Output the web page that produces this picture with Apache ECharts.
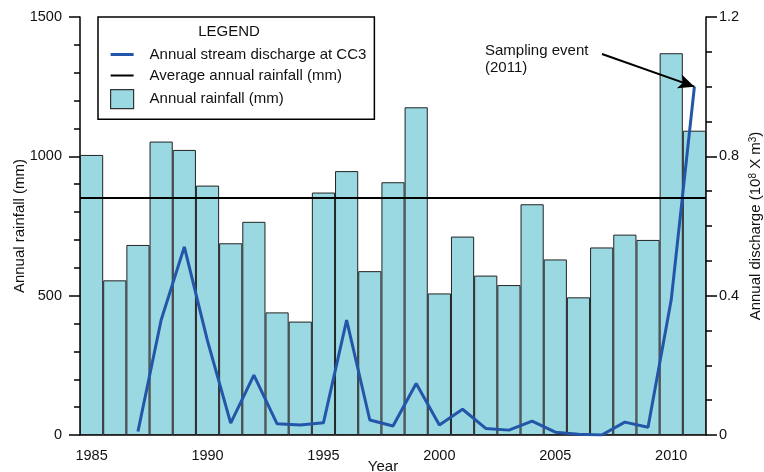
<!DOCTYPE html>
<html>
<head>
<meta charset="utf-8">
<script src="https://cdn.jsdelivr.net/npm/echarts@6/dist/echarts.min.js"></script>
<style>
  html, body { margin: 0; padding: 0; background: #fff; }
  #chart { width: 764px; height: 472px; }
</style>
</head>
<body>
<div id="chart"></div>
<script>
// Years 1985–2011
const years = ['1985','1986','1987','1988','1989','1990','1991','1992','1993','1994',
  '1995','1996','1997','1998','1999','2000','2001','2002','2003','2004',
  '2005','2006','2007','2008','2009','2010','2011'];

// Annual rainfall (mm)
const rainfall = [1005, 555, 682, 1053, 1023, 895, 688, 765, 440, 407,
  870, 947, 588, 907, 1176, 508, 712, 572, 538, 828,
  630, 494, 673, 719, 700, 1370, 1092];

// Annual stream discharge at CC3 (10^8 m^3), no record before 1987
const discharge = [null, null, 0.01, 0.33, 0.54, 0.27, 0.034, 0.172, 0.032, 0.029,
  0.035, 0.33, 0.043, 0.026, 0.148, 0.029, 0.074, 0.019, 0.014, 0.04,
  0.008, 0.002, 0.0, 0.037, 0.022, 0.388, 1.0];

// Long-term average annual rainfall (mm)
const averageRainfall = 850;

// Axis tick labels
const rainfallTicks = [0, 500, 1000, 1500];
const dischargeTicks = [0, 0.4, 0.8, 1.2];

const FONT = 'Liberation Sans, Arial, Helvetica, sans-serif';
const INK = '#111';
const BLUE = '#2356a8';
const BAR_FILL = '#9ad8e2';

const chart = echarts.init(document.getElementById('chart'), null, { renderer: 'canvas' });

const isLabelYear = (idx) => Number(years[idx]) % 5 === 0;
const plainNumber = (v) => String(v);

chart.setOption({
  animation: false,
  backgroundColor: '#fff',
  textStyle: { fontFamily: FONT, color: INK },
  grid: { left: 80, right: 58, top: 17, bottom: 37, containLabel: false, outerBoundsMode: 'none' },
  legend: {
    orient: 'vertical',
    left: 98, top: 17,
    padding: [30, 8, 10, 12],
    itemGap: 6,
    itemWidth: 23,
    itemHeight: 19,
    symbolKeepAspect: true,
    borderColor: '#000',
    borderWidth: 1.5,
    selectedMode: false,
    textStyle: { fontFamily: FONT, fontSize: 15, color: INK, padding: [0, 0, 0, 11] },
    data: [
      { name: 'Annual stream discharge at CC3', icon: 'path://M0,0H23V3H0Z', itemStyle: { color: BLUE, borderWidth: 0 } },
      { name: 'Average annual rainfall (mm)', icon: 'path://M0,0H23V2H0Z', itemStyle: { color: '#000', borderWidth: 0 } },
      { name: 'Annual rainfall (mm)', icon: 'rect', itemStyle: { color: BAR_FILL, borderColor: '#333', borderWidth: 1.2 } }
    ]
  },
  graphic: [
    { type: 'text', x: 229, y: 32, style: { text: 'LEGEND', font: '15px ' + FONT, fill: INK, align: 'center', verticalAlign: 'middle' } },
    { type: 'text', left: 485, top: 42, style: { text: 'Sampling event\n(2011)', font: '15px ' + FONT, fill: INK, lineHeight: 17 } }
  ],
  xAxis: [
    {
      type: 'category', data: years, boundaryGap: true,
      name: 'Year', nameLocation: 'middle', nameGap: 24, nameMoveOverlap: false,
      nameTextStyle: { fontFamily: FONT, fontSize: 15, color: INK, padding: [0, 20, 0, 0] },
      axisLine: { lineStyle: { color: '#000', width: 1.5 } },
      axisTick: { alignWithLabel: true, interval: 0, length: 7, lineStyle: { color: '#000', width: 1.5 } },
      axisLabel: { interval: (idx) => isLabelYear(idx), margin: 13, fontFamily: FONT, fontSize: 14.5, color: INK },
      splitLine: { show: false }
    },
    {
      type: 'category', data: years, boundaryGap: true, position: 'bottom',
      axisLine: { show: false },
      axisTick: { alignWithLabel: true, interval: (idx) => isLabelYear(idx), length: 12, lineStyle: { color: '#000', width: 1.5 } },
      axisLabel: { show: false },
      splitLine: { show: false }
    }
  ],
  yAxis: [
    {
      type: 'value', min: rainfallTicks[0], max: rainfallTicks[rainfallTicks.length - 1], interval: rainfallTicks[1] - rainfallTicks[0],
      name: 'Annual rainfall (mm)', nameLocation: 'middle', nameGap: 53, nameRotate: 90, nameMoveOverlap: false,
      nameTextStyle: { fontFamily: FONT, fontSize: 15, color: INK },
      axisLine: { show: true, lineStyle: { color: '#000', width: 1.5 } },
      axisTick: { show: true, length: 11, lineStyle: { color: '#000', width: 1.5 } },
      minorTick: { show: true, splitNumber: 5, length: 6, lineStyle: { color: '#000', width: 1.5 } },
      axisLabel: { margin: 18, fontFamily: FONT, fontSize: 14.5, color: INK, formatter: plainNumber },
      splitLine: { show: false }
    },
    {
      type: 'value', min: dischargeTicks[0], max: dischargeTicks[dischargeTicks.length - 1], interval: dischargeTicks[1] - dischargeTicks[0],
      position: 'right',
      name: 'Annual discharge (10{sup|8} X m{sup|3})', nameLocation: 'middle', nameGap: 42, nameRotate: 90, nameMoveOverlap: false,
      nameTextStyle: {
        fontFamily: FONT, fontSize: 15, color: INK,
        rich: { sup: { fontFamily: FONT, fontSize: 10, color: INK, verticalAlign: 'top', padding: [0, 0, 6, 0] } }
      },
      axisLine: { show: true, lineStyle: { color: '#000', width: 1.5 } },
      axisTick: { show: true, length: 11, lineStyle: { color: '#000', width: 1.5 } },
      minorTick: { show: true, splitNumber: 4, length: 6, lineStyle: { color: '#000', width: 1.5 } },
      axisLabel: { margin: 13, fontFamily: FONT, fontSize: 14.5, color: INK, formatter: plainNumber },
      splitLine: { show: false }
    }
  ],
  series: [
    {
      name: 'Annual rainfall (mm)', type: 'bar', xAxisIndex: 0, yAxisIndex: 0,
      data: rainfall, barCategoryGap: '0%',
      itemStyle: { color: BAR_FILL, borderColor: '#222', borderWidth: 1 },
      z: 1
    },
    {
      name: 'Average annual rainfall (mm)', type: 'line', xAxisIndex: 0, yAxisIndex: 0,
      data: [], symbol: 'none',
      lineStyle: { color: '#000', width: 2 }, itemStyle: { color: '#000' },
      markLine: {
        silent: true, symbol: ['none', 'none'], label: { show: false },
        lineStyle: { color: '#000', width: 2, type: 'solid' },
        data: [{ yAxis: averageRainfall }]
      },
      z: 3
    },
    {
      name: 'Annual stream discharge at CC3', type: 'line', xAxisIndex: 0, yAxisIndex: 1,
      data: discharge, symbol: 'none', connectNulls: false,
      lineStyle: { color: BLUE, width: 3 }, itemStyle: { color: BLUE },
      markLine: {
        silent: true, symbol: ['none', 'arrow'], symbolSize: [11, 16],
        label: { show: false },
        lineStyle: { color: '#000', width: 2, type: 'solid' },
        data: [[{ x: 602, y: 54 }, { coord: [years[years.length - 1], discharge[discharge.length - 1]] }]]
      },
      z: 4
    }
  ]
});
</script>
</body>
</html>
